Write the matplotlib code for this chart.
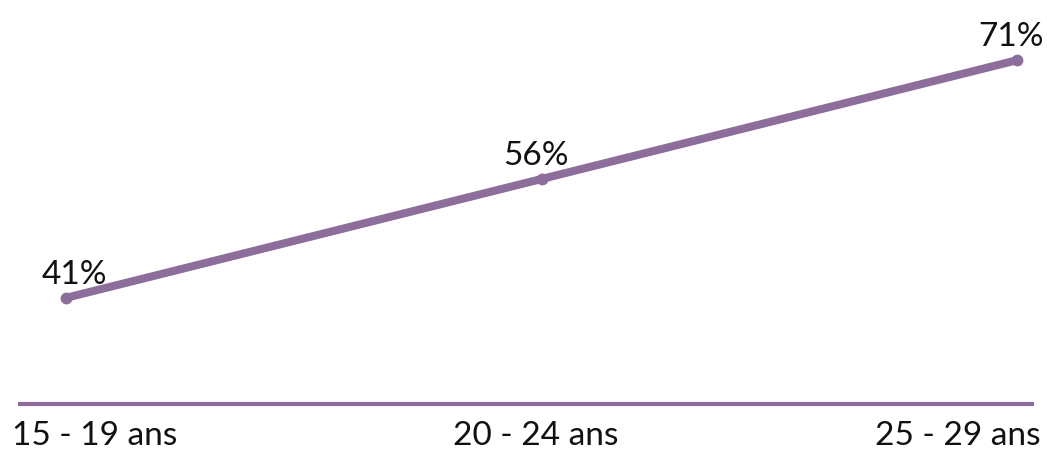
import matplotlib
matplotlib.use("Agg")
import matplotlib.pyplot as plt

# Share of each age group
groups = ["15 - 19 ans", "20 - 24 ans", "25 - 29 ans"]
shares = [41, 56, 71]

PURPLE = "#8c6d9b"

plt.rcParams["font.family"] = ["Lato", "DejaVu Sans"]

fig = plt.figure(figsize=(10.47, 4.53), dpi=100)
ax = fig.add_axes([20 / 1047, 49 / 453, 1012 / 1047, 404 / 453])

x = list(range(len(groups)))
ax.plot(x, shares, color=PURPLE, lw=5.8, solid_capstyle="round",
        marker="o", ms=7.5, mec=PURPLE, mfc=PURPLE, zorder=3)

ax.set_xlim(-0.0967, 2.0315)
ax.set_ylim(27.6, 78.6)

for s in ["top", "right", "left"]:
    ax.spines[s].set_visible(False)
ax.spines["bottom"].set_color(PURPLE)
ax.spines["bottom"].set_linewidth(3)
ax.set_yticks([])
ax.set_xticks([])

# value labels above each point
for xi, v in zip(x, shares):
    ax.annotate(f"{v}%", (xi, v), xytext=(8 if xi == 0 else -6, 8),
                textcoords="offset pixels", ha="center", va="bottom",
                fontsize=24, color="#111111")

# category labels under the axis line
aligns = ["left", "center", "right"]
offsets = [-54, -6, 23]
for xi, g, ha, dx in zip(x, groups, aligns, offsets):
    ax.annotate(g, (xi, 0), xycoords=("data", "axes fraction"),
                xytext=(dx, -17), textcoords="offset pixels",
                ha=ha, va="top", fontsize=24, color="#111111")

fig.savefig("out.png", dpi=100)
